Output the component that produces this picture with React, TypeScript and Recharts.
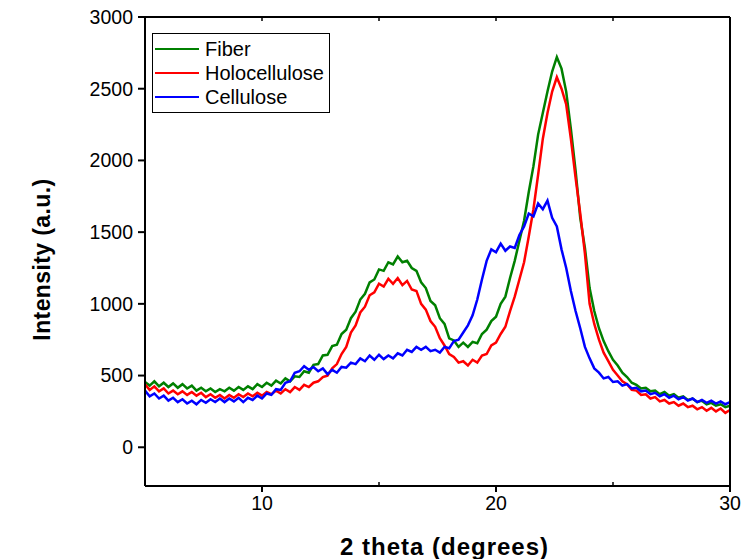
import { LineChart, Line, XAxis, YAxis, Legend } from "recharts";

// 2θ positions (deg), one every 0.2°
const twoTheta = [
  5.0, 5.2, 5.4, 5.6, 5.8, 6.0, 6.2, 6.4, 6.6, 6.8,
  7.0, 7.2, 7.4, 7.6, 7.8, 8.0, 8.2, 8.4, 8.6, 8.8,
  9.0, 9.2, 9.4, 9.6, 9.8, 10.0, 10.2, 10.4, 10.6, 10.8,
  11.0, 11.2, 11.4, 11.6, 11.8, 12.0, 12.2, 12.4, 12.6, 12.8,
  13.0, 13.2, 13.4, 13.6, 13.8, 14.0, 14.2, 14.4, 14.6, 14.8,
  15.0, 15.2, 15.4, 15.6, 15.8, 16.0, 16.2, 16.4, 16.6, 16.8,
  17.0, 17.2, 17.4, 17.6, 17.8, 18.0, 18.2, 18.4, 18.6, 18.8,
  19.0, 19.2, 19.4, 19.6, 19.8, 20.0, 20.2, 20.4, 20.6, 20.8,
  21.0, 21.2, 21.4, 21.6, 21.8, 22.0, 22.2, 22.4, 22.6, 22.8,
  23.0, 23.2, 23.4, 23.6, 23.8, 24.0, 24.2, 24.4, 24.6, 24.8,
  25.0, 25.2, 25.4, 25.6, 25.8, 26.0, 26.2, 26.4, 26.6, 26.8,
  27.0, 27.2, 27.4, 27.6, 27.8, 28.0, 28.2, 28.4, 28.6, 28.8,
  29.0, 29.2, 29.4, 29.6, 29.8, 30.0,
];

const fiber = [
  455, 430, 460, 425, 450, 420, 445, 415, 440, 410,
  430, 395, 415, 390, 410, 385, 405, 390, 415, 395,
  420, 400, 425, 405, 440, 420, 450, 430, 465, 445,
  480, 460, 495, 490, 530, 520, 575, 580, 640, 645,
  705, 715, 790, 820, 900, 945, 1030, 1070, 1150, 1170,
  1240, 1230, 1290, 1275, 1330, 1290, 1300, 1250, 1230, 1150,
  1110, 1020, 990, 900, 860, 760, 745, 700, 730, 700,
  735, 725, 790, 820, 880, 910, 1000, 1050, 1180, 1300,
  1440, 1580, 1780, 1960, 2180, 2330, 2480, 2620, 2720, 2640,
  2480, 2220, 1930, 1600, 1390, 1110, 950, 830, 740, 670,
  610, 570, 520, 490, 450, 435, 410, 415, 390, 395,
  370, 385, 360, 370, 345, 355, 330, 340, 315, 325,
  300, 310, 290, 300, 280, 290,
];

const holocellulose = [
  440, 400, 425, 390, 410, 375, 395, 370, 390, 365,
  385, 360, 380, 350, 370, 345, 365, 340, 365, 345,
  370, 350, 375, 355, 380, 360, 385, 370, 395, 375,
  405, 385, 420, 400, 435, 420, 450, 460, 490, 500,
  550, 580, 650, 700, 800, 850, 940, 980, 1060, 1080,
  1140, 1120, 1175, 1140, 1180, 1130, 1160, 1100, 1090, 1000,
  960, 880, 840, 760, 710, 650, 630, 590, 600, 570,
  610, 590, 640, 650, 710, 730, 790, 840, 950, 1050,
  1170, 1290, 1470, 1660, 1900, 2150, 2330, 2480, 2580, 2500,
  2390, 2150, 1880, 1630, 1350, 1000, 860, 750, 660, 600,
  540, 500, 460, 440, 400, 395, 365, 370, 340, 350,
  320, 330, 305, 315, 290, 305, 280, 290, 265, 280,
  255, 275, 250, 270, 240, 260,
];

const cellulose = [
  395, 355, 375, 340, 360, 325, 345, 315, 335, 305,
  325, 300, 330, 310, 335, 315, 340, 315, 340, 320,
  345, 315, 345, 330, 360, 340, 375, 365, 405, 400,
  450, 460, 520, 530, 565, 540, 560, 530, 550, 510,
  540, 520, 560, 555, 590, 580, 620, 600, 640, 610,
  645, 615, 640, 620, 655, 640, 680, 665, 700, 680,
  700, 670, 680, 660, 700, 690, 740, 750, 800, 850,
  920, 1030, 1170, 1300, 1380, 1360, 1420, 1370, 1400, 1390,
  1480, 1540, 1630, 1610, 1700, 1660, 1720, 1600, 1540, 1380,
  1250, 1090, 950, 830, 700, 620, 550, 520, 480, 490,
  455, 460, 430, 440, 410, 415, 390, 395, 370, 380,
  355, 370, 345, 360, 335, 350, 325, 340, 315, 330,
  310, 325, 305, 320, 300, 315,
];

const xTicks = [10, 20, 30];
const xMinorTicks = [15, 25];
const xTopTicks = [10, 15, 20, 25];
const yTicks = [0, 500, 1000, 1500, 2000, 2500, 3000];
const yMinorTicks = [-250, 250, 750, 1250, 1750, 2250, 2750];

const series = [
  { key: "fiber", name: "Fiber", color: "#008000" },
  { key: "holocellulose", name: "Holocellulose", color: "#FF0000" },
  { key: "cellulose", name: "Cellulose", color: "#0000FF" },
];

const rows = twoTheta.map((x, i) => ({
  x,
  fiber: fiber[i],
  holocellulose: holocellulose[i],
  cellulose: cellulose[i],
}));

const FONT = "'Liberation Sans', Arial, Helvetica, sans-serif";
const axisStroke = { stroke: "#000", strokeWidth: 2 };
const minorStroke = { stroke: "#000", strokeWidth: 1.5 };
const noLabel = () => "";

function LegendBox() {
  return (
    <div
      style={{
        border: "1.5px solid #000",
        background: "#fff",
        padding: "3px 5px 3px 2px",
        fontFamily: FONT,
        fontSize: 20,
        color: "#000",
      }}
    >
      {series.map((s) => (
        <div key={s.key} style={{ display: "flex", alignItems: "center", height: 24 }}>
          <span style={{ display: "inline-block", width: 44, height: 2, background: s.color, marginRight: 6 }} />
          <span>{s.name}</span>
        </div>
      ))}
    </div>
  );
}

export default function App() {
  return (
    <div style={{ position: "absolute", left: 0, top: 0, width: 753, height: 559, background: "#fff" }}>
      <LineChart width={753} height={559} data={rows} margin={{ top: 17, right: 23, bottom: 13, left: 60 }}>
        <XAxis
          xAxisId="main"
          dataKey="x"
          type="number"
          domain={[5, 30]}
          ticks={xTicks}
          height={60}
          axisLine={axisStroke}
          tickLine={axisStroke}
          tickSize={6}
          tickMargin={4}
          tick={{ fontSize: 19.5, fontFamily: FONT, fill: "#000" }}
          label={{
            value: "2 theta (degrees)",
            position: "center",
            dx: 7,
            dy: 30,
            style: { fontSize: 24, fontWeight: 700, fontFamily: FONT, fill: "#000", letterSpacing: 1 },
          }}
        />
        <XAxis
          xAxisId="minor"
          dataKey="x"
          type="number"
          domain={[5, 30]}
          ticks={xMinorTicks}
          mirror
          height={20}
          axisLine={false}
          tickLine={minorStroke}
          tickSize={4}
          tickFormatter={noLabel}
        />
        <XAxis
          xAxisId="top"
          orientation="top"
          dataKey="x"
          type="number"
          domain={[5, 30]}
          ticks={xTopTicks}
          mirror
          height={20}
          axisLine={axisStroke}
          tickLine={minorStroke}
          tickSize={4}
          tickFormatter={noLabel}
        />
        <YAxis
          yAxisId="main"
          type="number"
          domain={[-270, 3000]}
          ticks={yTicks}
          width={85}
          axisLine={axisStroke}
          tickLine={axisStroke}
          tickSize={7}
          tickMargin={5}
          tick={{ fontSize: 19.5, fontFamily: FONT, fill: "#000" }}
          label={{
            value: "Intensity (a.u.)",
            angle: -90,
            position: "center",
            dx: -61,
            dy: 8,
            style: { fontSize: 23, fontWeight: 700, fontFamily: FONT, fill: "#000", letterSpacing: 0.4 },
          }}
        />
        <YAxis
          yAxisId="minor"
          type="number"
          domain={[-270, 3000]}
          ticks={yMinorTicks}
          mirror
          width={20}
          axisLine={false}
          tickLine={minorStroke}
          tickSize={4}
          tickFormatter={noLabel}
        />
        <YAxis
          yAxisId="right"
          orientation="right"
          type="number"
          domain={[-270, 3000]}
          ticks={yTicks}
          mirror
          width={20}
          axisLine={axisStroke}
          tickLine={minorStroke}
          tickSize={4}
          tickFormatter={noLabel}
        />
        <Legend
          layout="vertical"
          align="center"
          verticalAlign="middle"
          wrapperStyle={{ left: 152, top: 33, width: "auto", height: "auto" }}
          content={() => <LegendBox />}
        />
        {series.map((s) => (
          <Line
            key={s.key}
            xAxisId="main"
            yAxisId="main"
            type="linear"
            dataKey={s.key}
            name={s.name}
            stroke={s.color}
            strokeWidth={2.5}
            dot={false}
            activeDot={false}
            isAnimationActive={false}
          />
        ))}
      </LineChart>
    </div>
  );
}
